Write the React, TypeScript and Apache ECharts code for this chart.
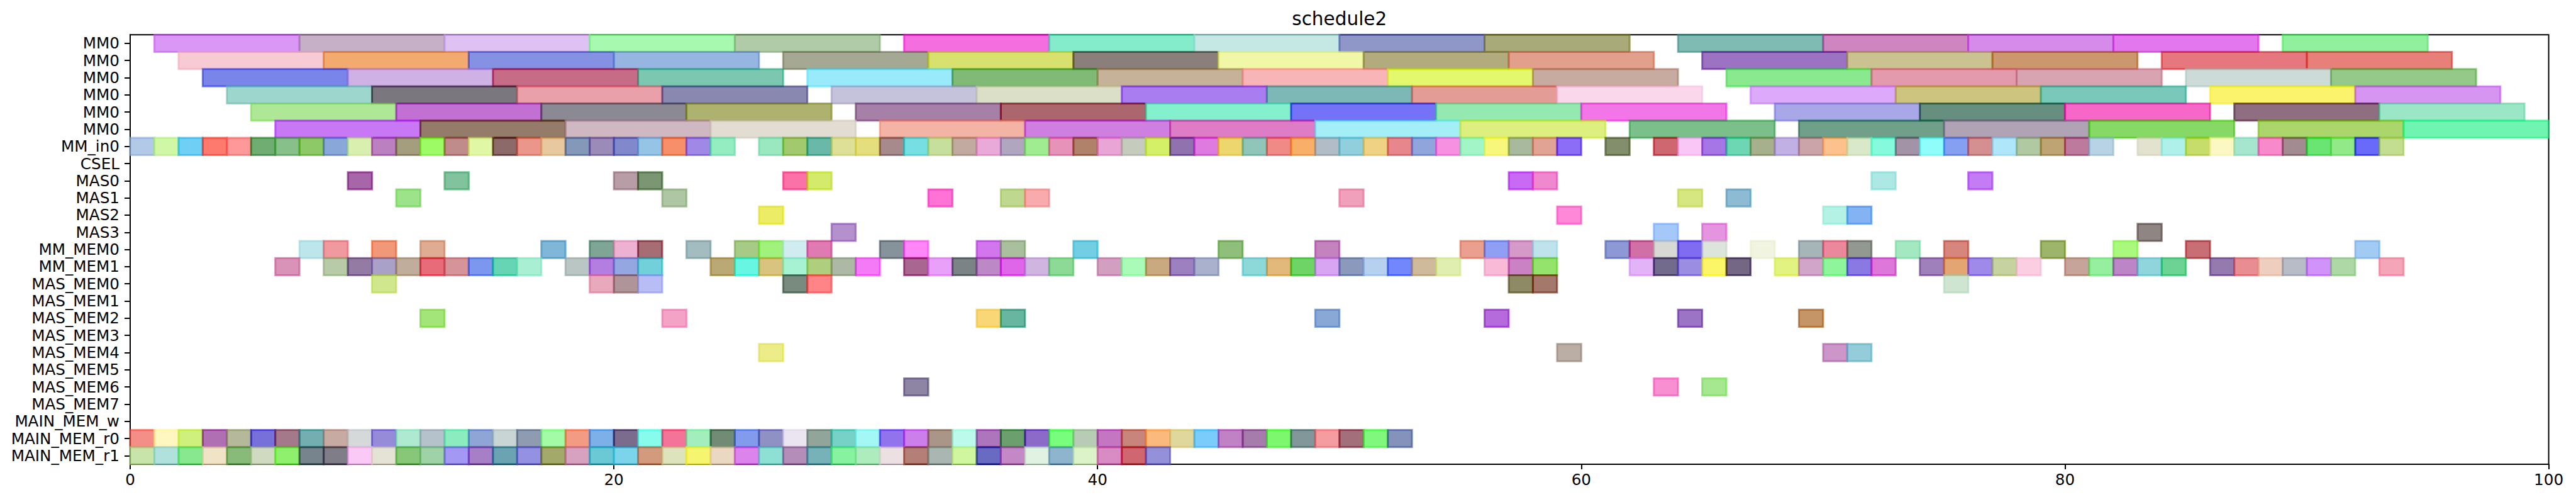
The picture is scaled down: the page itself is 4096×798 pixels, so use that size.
import React, { useEffect, useRef } from "react";
import * as echarts from "echarts";

const rowLabels = [
  "MM0", "MM0", "MM0", "MM0", "MM0", "MM0", "MM_in0", "CSEL",
  "MAS0", "MAS1", "MAS2", "MAS3", "MM_MEM0", "MM_MEM1",
  "MAS_MEM0", "MAS_MEM1", "MAS_MEM2", "MAS_MEM3", "MAS_MEM4", "MAS_MEM5", "MAS_MEM6", "MAS_MEM7",
  "MAIN_MEM_w", "MAIN_MEM_r0", "MAIN_MEM_r1",
];
const xTicks = [0, 20, 40, 60, 80, 100];
const LONG = 6; // duration of MM0 jobs
const SHORT = 1; // duration of every other job

const mm0aX = [1, 7, 13, 19, 25, 32, 38, 44, 50, 56, 64, 70, 76, 82, 89];
const mm0aC = ["#da97f5", "#c5b0c8", "#dfc2f3", "#a8f9b0", "#b0cba8", "#f46ee0", "#84ebcb", "#c6e8e5", "#8f97c9", "#a8aa7a", "#7fbab3", "#cf85bf", "#d68aea", "#e377ed", "#91f09e"];
const mm0bX = [2, 8, 14, 20, 27, 33, 39, 45, 51, 57, 65, 71, 77, 84, 90];
const mm0bC = ["#f7cad4", "#f2aa6f", "#8591e3", "#96b5e0", "#a5a893", "#d8e06e", "#8a7f7a", "#f0f7a6", "#b1ab7e", "#e29f8c", "#9b73c2", "#cbc291", "#cc976c", "#e6777e", "#e78078"];
const mm0cX = [3, 9, 15, 21, 28, 34, 40, 46, 52, 58, 66, 72, 78, 85, 91];
const mm0cC = ["#7a85ea", "#cfb1e5", "#c76c87", "#7cc7af", "#99eafa", "#81ba77", "#c5b299", "#f8b5b7", "#e4f86e", "#c7aaa0", "#8ae88f", "#e29aac", "#d9a4b1", "#cddbd8", "#95c98a"];
const mm0dX = [4, 10, 16, 22, 29, 35, 41, 47, 53, 59, 67, 73, 79, 86, 92];
const mm0dC = ["#9dd6cc", "#7a777e", "#e9a0a8", "#8888b0", "#c5c2db", "#dbdfc8", "#a97cf0", "#7eb8b6", "#e49c96", "#fbd7ec", "#dda9fb", "#ccc47f", "#79c8b9", "#fbf36b", "#d595f0"];
const mm0eX = [5, 11, 17, 23, 30, 36, 42, 48, 54, 60, 68, 74, 80, 87, 93];
const mm0eC = ["#aee896", "#c270d4", "#8b8993", "#adb36e", "#a780a8", "#ac646e", "#84f0cd", "#7473f8", "#94e9b1", "#f276e8", "#a8a8e8", "#668f80", "#f767c7", "#8e6e80", "#9ae6c7"];
const mm0fX = [6, 12, 18, 24, 31, 37, 43, 49, 55, 62, 69, 75, 81, 88, 94];
const mm0fC = ["#c878f5", "#957b69", "#d0b8c2", "#e2ddd3", "#f3b3a5", "#cf7fe0", "#df7cc6", "#a3eef7", "#ddef7e", "#7bc08a", "#70a08a", "#b1a3b6", "#87d966", "#abd66c", "#6ff5b0"];

const mmIn0X = [0, 1, 2, 3, 4, 5, 6, 7, 8, 9, 10, 11, 12, 13, 14, 15, 16, 17, 18, 19, 20, 21, 22, 23, 24,
  26, 27, 28, 29, 30, 31, 32, 33, 34, 35, 36, 37, 38, 39, 40, 41, 42, 43, 44, 45, 46, 47, 48, 49, 50, 51, 52, 53, 54, 55, 56, 57, 58, 59,
  61, 63, 64, 65, 66, 67, 68, 69, 70, 71, 72, 73, 74, 75, 76, 77, 78, 79, 80, 81,
  83, 84, 85, 86, 87, 88, 89, 90, 91, 92, 93];
const mmIn0C = ["#b3c9e8", "#cff7a5", "#6fcff4", "#ff7a6e", "#ff9898", "#6fad73", "#88c08a", "#8ec968", "#8aa7d9", "#d8efb0", "#bb80bf", "#a49e7e", "#9dfb63", "#c08b8b", "#e0f7a6", "#8c6a69", "#ea968b", "#e8c89e", "#8498b9", "#9b8bb9", "#8189cc", "#96c4e6", "#f68f6a", "#a089e6", "#93edc1",
  "#99e8c0", "#a3c96e", "#6ab9a8", "#dde096", "#e4df7c", "#a68a8c", "#76dfe3", "#c6df9c", "#c3aaa0", "#eaaad9", "#b1a6c0", "#a0ec91", "#e792b9", "#b0826a", "#e9a5d5", "#c5ccbd", "#d3f062", "#9073ae", "#df7ae0", "#edd66e", "#90c6b9", "#ef8a87", "#f8b068", "#b2bcc6", "#92cfdc", "#efd284", "#e8868e", "#90a5dc", "#f890e1", "#a1f5c6", "#f7f77b", "#a8b99e", "#e0a394", "#8b6df7",
  "#828e6c", "#cf6770", "#fac6f5", "#a676e6", "#6dd6b3", "#a6b08c", "#c1b0e3", "#caa4a8", "#fcc18c", "#d8e8c8", "#85fadc", "#a393a6", "#8ffefb", "#85a0f0", "#d48f90", "#b0e6fa", "#b0c9a3", "#bfa473", "#bd7a9c", "#b7d3e5",
  "#e2e2cf", "#b0f0ea", "#c6dd6c", "#fcf8c4", "#a7e6ce", "#f889ca", "#a28c91", "#6ae573", "#91e987", "#6a6afa", "#c3dd91"];

const mas0X = [9, 13, 20, 21, 27, 28, 57, 58, 72, 76];
const mas0C = ["#a766a8", "#80c39d", "#b89ca6", "#7a9672", "#fb72a9", "#d3ea6a", "#c96af5", "#f088d0", "#ade8e4", "#c47cf5"];
const mas1X = [11, 22, 33, 36, 37, 50, 64, 66];
const mas1C = ["#9de38a", "#aec6a3", "#ff72d6", "#bed890", "#f9aaad", "#f0a0bb", "#d6e681", "#8cbbd3"];
const mas2X = [26, 59, 70, 71];
const mas2C = ["#ecec66", "#ff88d8", "#b3f2e4", "#83b3f2"];
const mas3X = [29, 63, 65, 83];
const mas3C = ["#b490cd", "#a5c8fa", "#e594df", "#8f8583"];

const mmMem0X = [7, 8, 10, 12, 17, 19, 20, 21, 23, 25, 26, 27, 28, 31, 32, 35, 36, 39, 45, 49, 55, 56, 57, 58, 61, 62, 63, 64, 65, 67, 69, 70, 71, 73, 75, 79, 82, 85, 92];
const mmMem0C = ["#bce6ea", "#f09aa0", "#f09877", "#dfab93", "#80b7d8", "#7ea595", "#edb1d1", "#a66d75", "#a2bcc0", "#a7ca86", "#a0f27c", "#d0ecf1", "#df7bb2", "#86939a", "#ff86f7", "#d276ed", "#a9bf9d", "#72cfe3", "#90bf7c", "#c383be", "#eaa08e", "#8fa0f4", "#d59ac8", "#bee3ea", "#8c99d4", "#d070a4", "#d8d9d4", "#7f6cf1", "#dce4dc", "#f0f4e0", "#a6b6b8", "#ec889c", "#939890", "#a3e8c0", "#d6867d", "#9db46b", "#a8f97c", "#c76f74", "#a2cbf3"];
const mmMem1X = [6, 8, 9, 10, 11, 12, 13, 14, 15, 16, 18, 19, 20, 21, 24, 25, 26, 27, 28, 29, 30, 32, 33, 34, 35, 36, 37, 38, 40, 41, 42, 43, 44, 46, 47, 48, 49, 50, 51, 52, 53, 54, 56, 57, 58, 62, 63, 64, 65, 66, 68, 69, 70, 71, 72, 74, 75, 76, 77, 78, 80, 81, 82, 83, 84, 86, 87, 88, 89, 90, 91, 93];
const mmMem1C = ["#d993b8", "#b7cba8", "#937ba3", "#aaa1c8", "#c0ad9b", "#e86b7a", "#d49499", "#7b97ee", "#66d5b4", "#a9efd4", "#bac6c4", "#b47ee0", "#94a7e0", "#71d0d9", "#bba975", "#66f6e2", "#d8c47e", "#a8f2d4", "#afcf7e", "#adb9a4", "#f47af8", "#a96690", "#e8a0f9", "#7b8386", "#bd88c6", "#df66e9", "#d0b5e1", "#8dda96", "#d39fc0", "#abfbb8", "#c9a97f", "#9c80c0", "#aab1cd", "#8dd8d9", "#e2b97a", "#6fd463", "#d7a5f1", "#8b99bd", "#b6d1ef", "#7387fd", "#cfba9c", "#e0efb0", "#f8bad7", "#cb82c5", "#93e36d", "#e3b3f8", "#736b8c", "#9b8ee2", "#fbf568", "#736783", "#e3f381", "#d1a5c9", "#8ef59a", "#8a79e2", "#dd77d9", "#9f80bb", "#e3a673", "#9f89e9", "#c6d29f", "#fbcfe1", "#c6a49a", "#96ee9f", "#bb85c6", "#90d5dc", "#6cd394", "#957aaf", "#e88d92", "#eecebe", "#b7bcc6", "#d093f9", "#afd8a7", "#f5a5b8"];

const masMem0X = [10, 19, 20, 21, 27, 28, 57, 58, 75];
const masMem0C = ["#d1e78e", "#e8a9bc", "#b09598", "#b9bdf5", "#798a7f", "#ff8488", "#8f8a62", "#a4786b", "#cee5d2"];
const masMem2X = [12, 22, 35, 36, 49, 56, 64, 69];
const masMem2C = ["#a3e578", "#f4a3c7", "#f9d776", "#69b6a0", "#8aa8d6", "#b56bdb", "#9c74c5", "#c59467"];
const masMem4X = [26, 59, 70, 71];
const masMem4C = ["#ecec88", "#bbaea4", "#cc96c9", "#95ccd9"];
const masMem6X = [32, 63, 65];
const masMem6C = ["#8e85a4", "#f78fd1", "#a5e890"];

const mainR0X = [0, 1, 2, 3, 4, 5, 6, 7, 8, 9, 10, 11, 12, 13, 14, 15, 16, 17, 18, 19, 20, 21, 22, 23, 24, 25, 26, 27, 28, 29, 30, 31, 32, 33, 34, 35, 36, 37, 38, 39, 40, 41, 42, 43, 44, 45, 46, 47, 48, 49, 50, 51, 52];
const mainR0C = ["#f48f88", "#fff7bf", "#d0f07e", "#b06fb2", "#b5b89a", "#776fda", "#a47a8a", "#75aeb0", "#c7aba3", "#d5d9da", "#968bd9", "#aeead1", "#b5c1cb", "#8becc0", "#8ea5d5", "#c8d5d4", "#8e9bb0", "#a3fba5", "#f49b84", "#7db0e8", "#7b6b8d", "#88fcec", "#f47398", "#a2efbd", "#728b75", "#839bec", "#8f90c4", "#ebe4f1", "#92a59a", "#76d2c6", "#a3f8f5", "#9073ed", "#cc7eea", "#aa9688", "#bcfbec", "#ad75bb", "#6b9f6d", "#8c6ac9", "#79fd7c", "#b8cbb5", "#c476c2", "#c8857b", "#fcb97e", "#e0d79d", "#7acdfb", "#c082c4", "#a57cab", "#7df86e", "#82979a", "#f59ca0", "#a26f7b", "#80f87e", "#8492bc"];
const mainR1X = [0, 1, 2, 3, 4, 5, 6, 7, 8, 9, 10, 11, 12, 13, 14, 15, 16, 17, 18, 19, 20, 21, 22, 23, 24, 25, 26, 27, 28, 29, 30, 31, 32, 33, 34, 35, 36, 37, 38, 39, 40, 41, 42];
const mainR1C = ["#c8e4aa", "#b0e1dd", "#88e890", "#f1e3c6", "#88ba7a", "#d0dac0", "#8ff06d", "#77848d", "#7f7d88", "#fac9f5", "#e5e3d5", "#88c778", "#a0d2a7", "#a398f3", "#a67fc7", "#6ba3b2", "#9490e2", "#a2a96b", "#d7a2c0", "#6ac9d4", "#7cd4ea", "#d49a7e", "#dde3bc", "#f6f56f", "#ead8c3", "#dd83ec", "#8ee0d4", "#b48eb8", "#78b2b9", "#87f29f", "#aeecbd", "#ede0e2", "#b47f77", "#aab6b2", "#d0f79f", "#686bc1", "#c588c7", "#e0f3e2", "#8fb4ce", "#dcf2c8", "#d98bc3", "#cf6670", "#9490da"];

// row index, starts, colours, duration
const rowJobs: [number, number[], string[], number][] = [
  [0, mm0aX, mm0aC, LONG], [1, mm0bX, mm0bC, LONG], [2, mm0cX, mm0cC, LONG],
  [3, mm0dX, mm0dC, LONG], [4, mm0eX, mm0eC, LONG], [5, mm0fX, mm0fC, LONG],
  [6, mmIn0X, mmIn0C, SHORT],
  [8, mas0X, mas0C, SHORT], [9, mas1X, mas1C, SHORT], [10, mas2X, mas2C, SHORT], [11, mas3X, mas3C, SHORT],
  [12, mmMem0X, mmMem0C, SHORT], [13, mmMem1X, mmMem1C, SHORT],
  [14, masMem0X, masMem0C, SHORT], [16, masMem2X, masMem2C, SHORT],
  [18, masMem4X, masMem4C, SHORT], [20, masMem6X, masMem6C, SHORT],
  [23, mainR0X, mainR0C, SHORT], [24, mainR1X, mainR1C, SHORT],
];

const S = 0.886;
const ALPHA = 0.6;

function baseRgba(hex: string): string {
  const v = [1, 3, 5].map((i) => parseInt(hex.slice(i, i + 2), 16));
  const c = v.map((x) => Math.max(0, Math.min(255, Math.round((x - 255 * (1 - ALPHA)) / ALPHA))));
  return `rgba(${c[0]},${c[1]},${c[2]},${ALPHA})`;
}

export default function App() {
  const ref = useRef<HTMLDivElement>(null);
  useEffect(() => {
    if (!ref.current) return;
    const chart = echarts.init(ref.current, undefined, { renderer: "svg" });
    const data: number[][] = [];
    const cols: string[] = [];
    rowJobs.forEach(([row, xs, cs, dur]) => {
      xs.forEach((x, i) => {
        data.push([x, row, x + dur]);
        cols.push(baseRgba(cs[i]));
      });
    });
    const font = "DejaVu Sans";
    const fs = 27.8 * S;
    const gridLeft = 233.6 * S;
    const gridRight = 4096 - 4574 * S;
    const gridTop = 62.3 * S;
    const gridBottom = 798 - 833 * S;
    chart.setOption({
      animation: false,
      graphic: [
        {
          type: "text",
          x: ((233.6 + 4574) / 2) * S,
          y: 30,
          style: {
            text: "schedule2",
            font: `${33.3 * S}px '${font}'`,
            fill: "#000",
            textAlign: "center",
            textVerticalAlign: "middle",
          },
        },
      ],
      grid: {
        left: gridLeft,
        right: gridRight,
        top: gridTop,
        bottom: gridBottom,
        show: true,
        borderColor: "#000",
        borderWidth: 2,
        backgroundColor: "transparent",
      },
      xAxis: {
        type: "value",
        min: xTicks[0],
        max: xTicks[xTicks.length - 1],
        interval: xTicks[1] - xTicks[0],
        axisLine: { show: true, lineStyle: { color: "#000", width: 2 } },
        axisTick: { show: true, length: 8, lineStyle: { color: "#000", width: 2 } },
        axisLabel: { show: true, color: "#000", fontSize: fs, fontFamily: font, margin: 12 },
        splitLine: { show: false },
      },
      yAxis: {
        type: "category",
        data: rowLabels,
        inverse: true,
        axisLine: { show: true, lineStyle: { color: "#000", width: 2 } },
        axisTick: { show: true, alignWithLabel: true, length: 9, lineStyle: { color: "#000", width: 2 } },
        axisLabel: { show: true, color: "#000", fontSize: fs, fontFamily: font, margin: 17, interval: 0 },
        splitLine: { show: false },
      },
      series: [
        {
          type: "custom",
          encode: { x: [0, 2], y: 1 },
          data,
          renderItem: (params: any, api: any) => {
            const s = api.coord([api.value(0), api.value(1)]);
            const e = api.coord([api.value(2), api.value(1)]);
            const h = api.size([0, 1])[1];
            const c = cols[params.dataIndex];
            return {
              type: "rect",
              shape: { x: s[0], y: s[1] - h / 2, width: e[0] - s[0], height: h },
              style: { fill: c, stroke: c, lineWidth: 3 },
            };
          },
        },
      ],
    });
    return () => chart.dispose();
  }, []);
  return (
    <div
      ref={ref}
      style={{ position: "fixed", left: 0, top: 0, width: 4096, height: 798, background: "#fff" }}
    />
  );
}
